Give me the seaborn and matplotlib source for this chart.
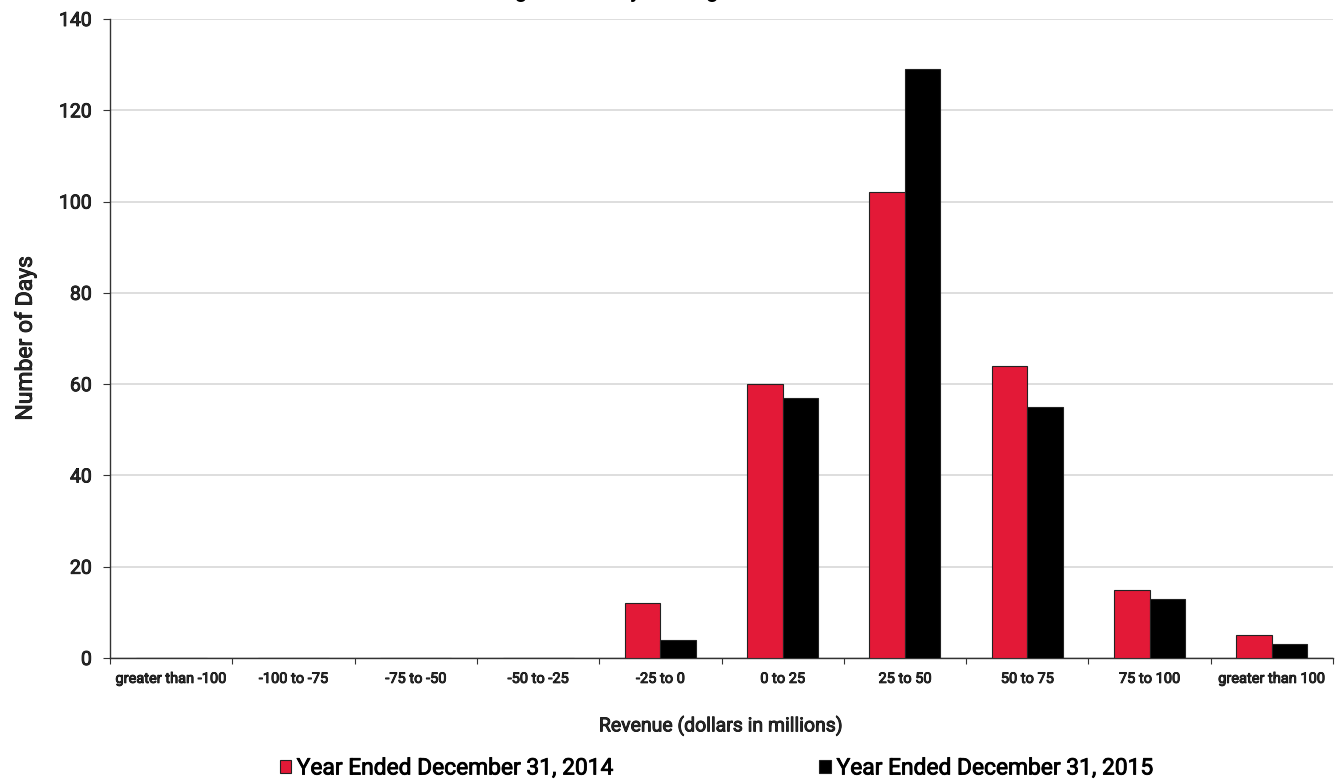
import matplotlib
matplotlib.use("Agg")
import matplotlib.pyplot as plt
import matplotlib.patheffects as pe
from matplotlib.ticker import FixedLocator, MultipleLocator
import seaborn as sns
import pandas as pd

# Revenue buckets (dollars in millions) and day counts per year
categories = ["greater than -100", "-100 to -75", "-75 to -50", "-50 to -25", "-25 to 0",
              "0 to 25", "25 to 50", "50 to 75", "75 to 100", "greater than 100"]
days_2014 = [0, 0, 0, 0, 12, 60, 102, 64, 15, 5]
days_2015 = [0, 0, 0, 0, 4, 57, 129, 55, 13, 3]
series_names = ["Year Ended December 31, 2014", "Year Ended December 31, 2015"]
series_colors = ["#E31937", "#000000"]

df = pd.DataFrame({
    "bucket": categories * 2,
    "days": days_2014 + days_2015,
    "series": [series_names[0]] * len(categories) + [series_names[1]] * len(categories),
})

sns.set_theme(style="white")
plt.rcParams["font.family"] = ["Roboto", "DejaVu Sans"]
plt.rcParams["text.color"] = "black"

# slightly heavier strokes for all chart text
heavy = [pe.withStroke(linewidth=0.6, foreground="black")]

fig = plt.figure(figsize=(13.38, 7.8), dpi=100)
ax = fig.add_axes([110 / 1338, 1 - 658 / 780, (1333 - 110) / 1338, (658 - 19) / 780])

sns.barplot(data=df, x="bucket", y="days", hue="series", order=categories,
            hue_order=series_names, palette=series_colors, saturation=1, width=0.58,
            edgecolor="#222222", linewidth=0.8, ax=ax, legend=True, zorder=3)

ax.set_xlim(-0.5, len(categories) - 0.5)
ax.set_ylim(0, 140)
ax.yaxis.set_major_locator(MultipleLocator(20))
ax.yaxis.grid(True, color="#d4d4d4", linewidth=1.1, zorder=0)
ax.xaxis.grid(False)

for side in ["top", "right"]:
    ax.spines[side].set_visible(False)
for side in ["left", "bottom"]:
    ax.spines[side].set_color("#333333")
    ax.spines[side].set_linewidth(1.0)

# category labels centred, tick marks on category boundaries
ax.tick_params(axis="x", which="major", length=0, pad=10, labelsize=10.5)
ax.xaxis.set_minor_locator(FixedLocator([i - 0.5 for i in range(len(categories) + 1)]))
ax.tick_params(axis="x", which="minor", bottom=True, length=4, width=0.8, color="#333333")
ax.tick_params(axis="y", left=True, length=5, width=0.8, color="#333333", labelsize=14, pad=8)
for lbl in ax.get_xticklabels() + ax.get_yticklabels():
    lbl.set_path_effects(heavy)

ax.set_xlabel("Revenue (dollars in millions)", fontsize=14, labelpad=22, path_effects=heavy)
ax.set_ylabel("Number of Days", fontsize=16.5, labelpad=16, path_effects=heavy)

ax.get_legend().remove()
handles, labels = ax.get_legend_handles_labels()
leg = fig.legend(handles, labels, loc="center", bbox_to_anchor=(0.535, 0.0154), ncol=2,
                 frameon=False, handlelength=0.5, handleheight=0.5,
                 handletextpad=0.25, columnspacing=9.1, prop={"size": 16.4})
for txt in leg.get_texts():
    txt.set_path_effects(heavy)

# chart title sits above the top edge of the canvas
fig.text(0.475, 1.0028, "Histogram of Daily Trading Revenue", ha="center", va="baseline",
         fontsize=15, fontweight="bold")

fig.savefig("out.png", dpi=100)
